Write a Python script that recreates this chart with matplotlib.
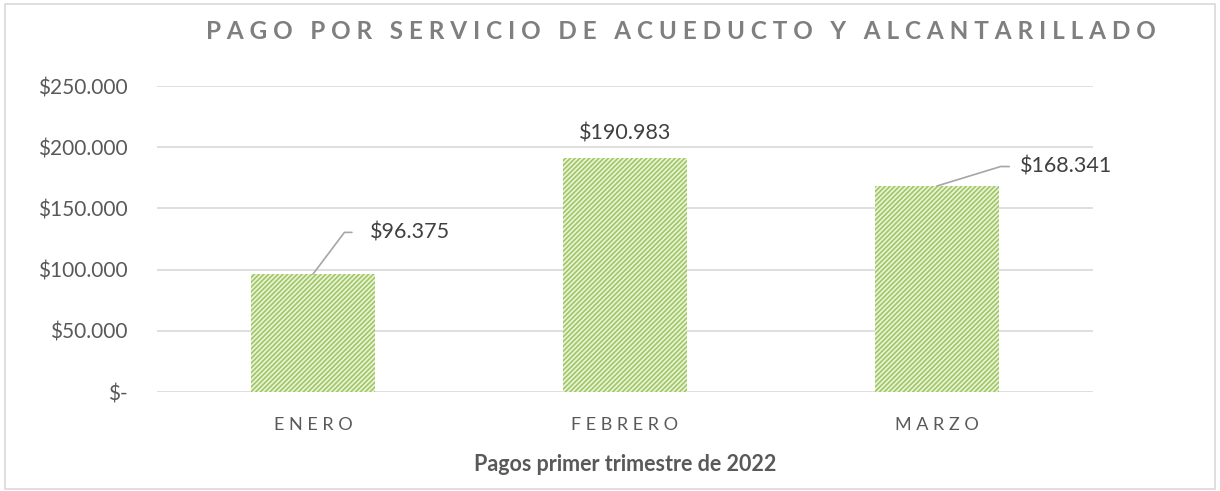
import numpy as np
import matplotlib.pyplot as plt
from matplotlib.patches import Rectangle

meses = ["ENERO", "FEBRERO", "MARZO"]
pagos = [96375, 190983, 168341]
y_ticks = [0, 50000, 100000, 150000, 200000, 250000]

titulo = "PAGO POR SERVICIO DE ACUEDUCTO Y ALCANTARILLADO"
eje_x = "Pagos primer trimestre de 2022"

GRAY = "#595959"
FONT = ["Lato", "DejaVu Sans"]


def spaced(s, sep=" "):
    return sep.join(s)


def money(v):
    if v == 0:
        return "$-"
    return "$" + f"{v:,.0f}".replace(",", ".")


def main():
    plt.rcParams['font.family'] = FONT
    plt.rcParams['hatch.linewidth'] = 1.1

    fig = plt.figure(figsize=(12.2, 4.91), dpi=100)
    fig.patches.append(Rectangle((0.004, 0.004), 0.992, 0.988, transform=fig.transFigure,
                                 fill=False, edgecolor="#d9d9d9", linewidth=1.2))
    ax = fig.add_axes([0.1287, 0.2016, 0.7672, 0.6232])

    x = np.arange(len(meses))
    ax.bar(x, pagos, width=0.4, color="#e8f1d9", edgecolor="#9cc65a",
           hatch="///////", linewidth=0, zorder=2)

    ax.set_xlim(-0.5, len(meses) - 0.5)
    ax.set_ylim(0, 250000)
    ax.set_yticks(y_ticks)
    ax.set_yticklabels([money(v) for v in y_ticks], color=GRAY, fontsize=15)
    ax.set_xticks(x)
    ax.set_xticklabels([spaced(m) for m in meses], color=GRAY, fontsize=13)
    ax.tick_params(axis='y', length=0, pad=21)
    ax.tick_params(axis='x', length=0, pad=18)
    ax.grid(axis='y', color="#d9d9d9", linewidth=1.2, zorder=0)
    for s in ax.spines.values():
        s.set_visible(False)

    ax.set_xlabel(eje_x, color=GRAY, fontsize=15.5, fontweight='bold', labelpad=15)

    # data labels
    label_kw = dict(fontsize=15.5, color="#404040", textcoords="offset points")
    ax.annotate(money(pagos[0]), xy=(x[0], pagos[0]), xytext=(41, 30),
                ha='left', va='center', **label_kw,
                arrowprops=dict(arrowstyle='-', color="#a6a6a6", lw=1.2,
                                shrinkA=11, shrinkB=0, relpos=(0, 0.5),
                                connectionstyle="angle,angleA=0,angleB=53,rad=0"))
    ax.annotate(money(pagos[1]), xy=(x[1], pagos[1]), xytext=(0, 18),
                ha='center', va='center', **label_kw)
    ax.annotate(money(pagos[2]), xy=(x[2], pagos[2]), xytext=(60, 14),
                ha='left', va='center', **label_kw,
                arrowprops=dict(arrowstyle='-', color="#a6a6a6", lw=1.2,
                                shrinkA=6, shrinkB=0, relpos=(0, 0.5),
                                connectionstyle="angle,angleA=0,angleB=17,rad=0"))

    fig.text(0.558, 0.935, spaced(titulo), ha='center', va='center',
             fontsize=17.5, fontweight='bold', color="#7f7f7f")

    plt.savefig("out.png", dpi=100)


if __name__ == "__main__":
    main()
